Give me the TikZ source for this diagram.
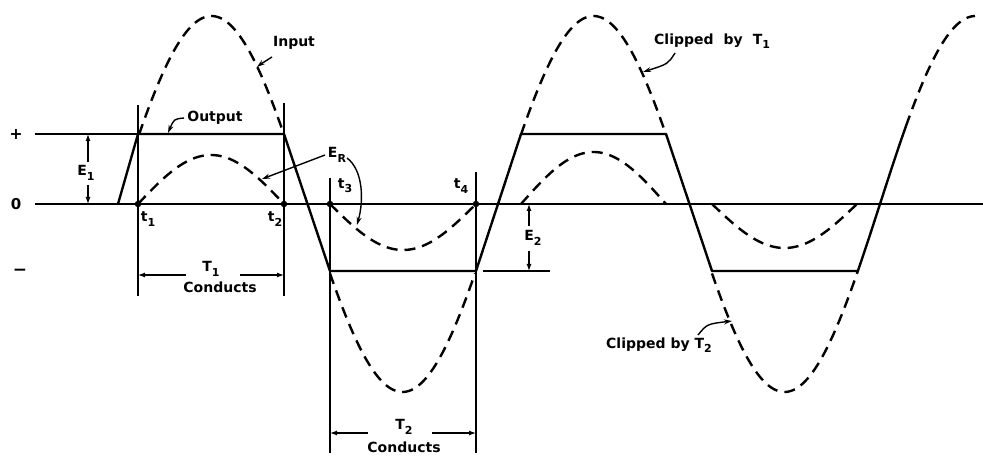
\documentclass[tikz,border=0pt]{standalone}
\usepackage{fontspec}
\setmainfont{DejaVu Sans}
\usetikzlibrary{arrows.meta}
\newcommand\lsub[1]{\raisebox{-0.55ex}{\fontsize{11}{11}\selectfont #1}}
\begin{document}
\begin{tikzpicture}[x=1pt,y=-1pt,
 thinline/.style={line width=1.2pt},
 outline/.style={line width=2.4pt, line join=round},
 dsh/.style={line width=2.4pt, dash pattern=on 11pt off 7pt},
 lbl/.style={font=\fontsize{14}{16}\selectfont\bfseries, inner sep=0pt},
 dim/.style={thinline, -{Latex[length=7pt,width=5pt]}},
 lead/.style={line width=1.4pt, -{Stealth[length=8pt,width=5pt]}},
 dot/.style={circle, fill, inner sep=0pt, minimum size=6.5pt},
]
\useasboundingbox (0,0) rectangle (983,457);
\fill[white] (0,0) rectangle (983,457);

% axes and levels
\coordinate (z0) at (35,204); \coordinate (z1) at (983,204);
\coordinate (p0) at (35,134); \coordinate (p1) at (138,134);
\draw[thinline] (z0) -- (z1);
\draw[line width=1.6pt] (p0) -- (p1);
\node[lbl, font=\fontsize{16}{16}\selectfont\bfseries] (plus) at (16,134) {+};
\node[lbl, font=\fontsize{15}{16}\selectfont\bfseries] (zero) at (16,204) {0};
\node[lbl, font=\fontsize{17}{17}\selectfont\bfseries] (minus) at (20,272) {−};

% vertical lines
\coordinate (v1a) at (138,105); \coordinate (v1b) at (138,296);
\coordinate (v2a) at (284,103); \coordinate (v2b) at (284,296);
\coordinate (v3a) at (330,178); \coordinate (v3b) at (330,453);
\coordinate (v4a) at (476,172); \coordinate (v4b) at (476,453);
\draw[thinline] (v1a) -- (v1b);
\draw[thinline] (v2a) -- (v2b);
\draw[thinline] (v3a) -- (v3b);
\draw[thinline] (v4a) -- (v4b);

% input (dashed outside the clipping band)
\draw[dsh] plot[domain=139:284, samples=60] (\x,{204-188*sin(0.942408*(\x-116))});
\draw[dsh] plot[domain=330:475, samples=60] (\x,{204-188*sin(0.942408*(\x-116))});
\draw[dsh] plot[domain=521:666, samples=60] (\x,{204-188*sin(0.942408*(\x-116))});
\draw[dsh] plot[domain=712:857, samples=60] (\x,{204-188*sin(0.942408*(\x-116))});
\draw[dsh] plot[domain=906:975, samples=40] (\x,{204-188*sin(0.942408*(\x-116))});

% E_R
\draw[dsh] plot[domain=138:284, samples=60] (\x,{204-49*sin(1.232877*(\x-138))});
\draw[dsh] plot[domain=330:476, samples=60] (\x,{204+46*sin(1.232877*(\x-330))});
\draw[dsh] plot[domain=521:666, samples=60] (\x,{204-52*sin(1.241379*(\x-521))});
\draw[dsh] plot[domain=712:857, samples=60] (\x,{204+44*sin(1.241379*(\x-712))});

% output
\coordinate (o0) at (118,204); \coordinate (o1) at (138,134); \coordinate (o2) at (284,134);
\coordinate (o3) at (330,271); \coordinate (o4) at (476,271); \coordinate (o5) at (521,134);
\coordinate (o6) at (666,134); \coordinate (o7) at (712,271); \coordinate (o8) at (857,271);
\draw[outline] (o0) -- (o1) -- (o2) -- (o3) -- (o4) -- (o5) -- (o6) -- (o7) -- (o8);
\draw[outline] plot[domain=857:906, samples=30] (\x,{204-188*sin(0.942408*(\x-116))});

% dots and t labels
\node[dot] (d1) at (138,204) {};
\node[dot] (d2) at (284,204) {};
\node[dot] (d3) at (330,204) {};
\node[dot] (d4) at (476,204) {};
\node[lbl] (t1) at (148,219) {t\lsub{1}};
\node[lbl] (t2) at (275,219) {t\lsub{2}};
\node[lbl] (t3) at (345,186) {t\lsub{3}};
\node[lbl] (t4) at (461,186) {t\lsub{4}};

% E1 dimension
\node[lbl] (E1) at (86,173) {E\lsub{1}};
\coordinate (e1a) at (88,162); \coordinate (e1t) at (88,134);
\coordinate (e1b) at (88,185); \coordinate (e1d) at (88,204);
\draw[dim] (e1a) -- (e1t);
\draw[dim] (e1b) -- (e1d);

% E2 dimension
\node[lbl] (E2) at (533,238) {E\lsub{2}};
\coordinate (e2a) at (529,226); \coordinate (e2t) at (529,204);
\coordinate (e2b) at (529,251); \coordinate (e2d) at (529,271);
\coordinate (x2a) at (483,271); \coordinate (x2b) at (550,271);
\draw[thinline] (x2a) -- (x2b);
\draw[dim] (e2a) -- (e2t);
\draw[dim] (e2b) -- (e2d);

% T1 conducts
\node[lbl] (T1) at (211,269) {T\lsub{1}};
\node[lbl] (C1) at (220,287) {Conducts};
\coordinate (T1a) at (186,275); \coordinate (T1l) at (138,275);
\coordinate (T1b) at (240,275); \coordinate (T1r) at (284,275);
\draw[dim] (T1a) -- (T1l);
\draw[dim] (T1b) -- (T1r);

% T2 conducts
\node[lbl] (T2) at (404,427) {T\lsub{2}};
\node[lbl] (C2) at (404,447) {Conducts};
\coordinate (T2a) at (368,433); \coordinate (T2l) at (330,433);
\coordinate (T2b) at (432,433); \coordinate (T2r) at (476,433);
\draw[dim] (T2a) -- (T2l);
\draw[dim] (T2b) -- (T2r);

% labels with leaders
\node[lbl] (inp) at (294,43) {Input};
\coordinate (inS) at (272,57); \coordinate (inE) at (257,67);
\draw[lead] (inS) .. controls (266,60) .. (inE);

\node[lbl] (outp) at (215,118) {Output};
\coordinate (ouS) at (184,118); \coordinate (ouE) at (168,133);
\draw[lead] (ouS) .. controls (174,119) .. (ouE);

\node[lbl] (ER) at (337,155) {E\lsub{R}};
\coordinate (erS) at (325,155); \coordinate (erE) at (262,179);
\draw[lead] (erS) -- (erE);
\coordinate (er2S) at (347,158); \coordinate (er2E) at (357,225);
\draw[lead] (er2S) .. controls (363,170) and (364,200) .. (er2E);

\node[lbl, anchor=west] (cl1) at (654,41) {Clipped\hspace{10pt}by\hspace{10pt}T\lsub{1}};
\coordinate (c1S) at (675,53); \coordinate (c1E) at (643,72);
\draw[lead] (c1S) .. controls (668,64) .. (c1E);

\node[lbl, anchor=west] (cl2) at (606,345) {Clipped by T\lsub{2}};
\coordinate (c2S) at (698,335); \coordinate (c2E) at (732,321);
\draw[lead] (c2S) .. controls (707,324) .. (c2E);
\end{tikzpicture}
\end{document}
